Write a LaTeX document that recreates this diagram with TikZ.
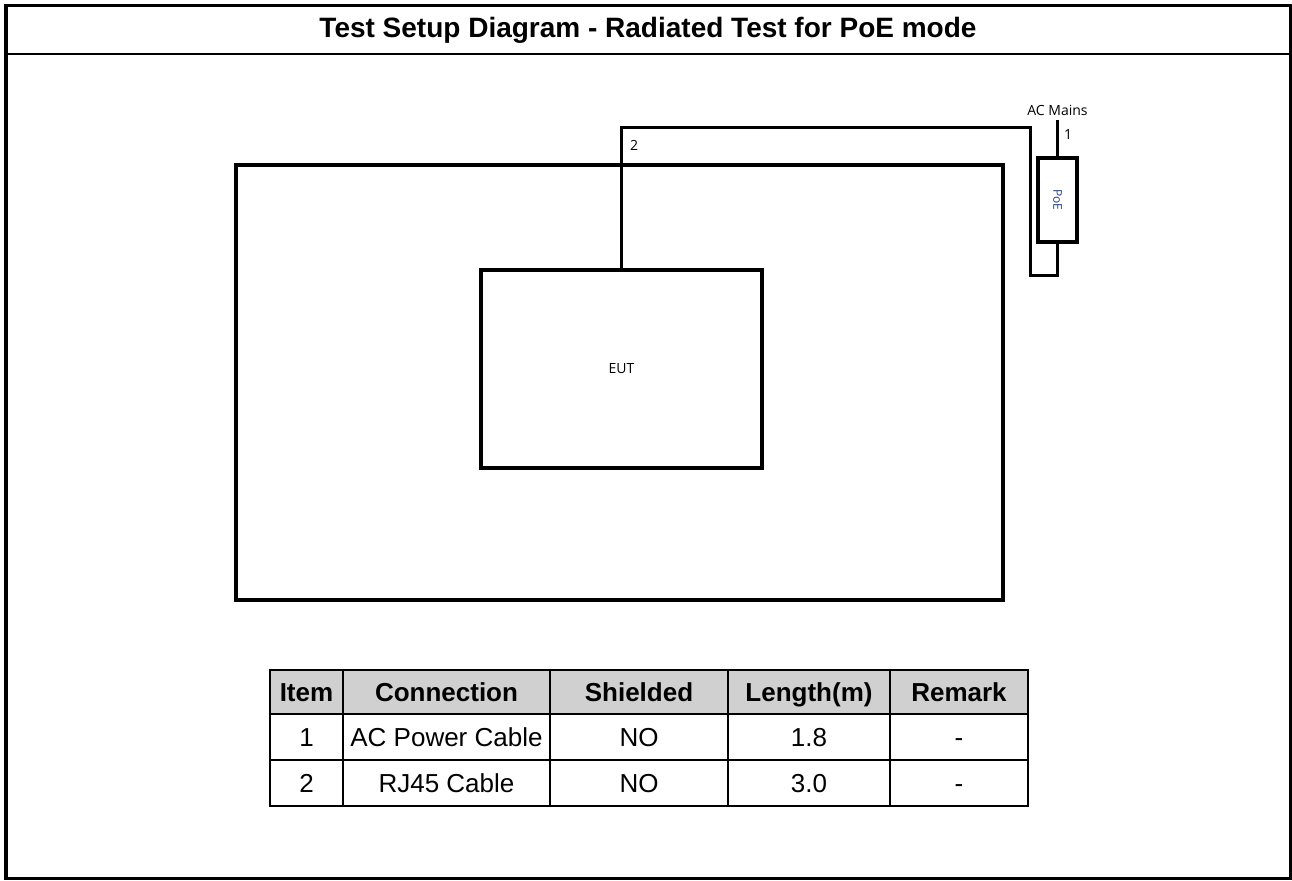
\documentclass[tikz,border=0pt]{standalone}
\usepackage{fontspec}
\setmainfont{Liberation Sans}
\newfontfamily\tagfont{Open Sans}
\usetikzlibrary{positioning}
\definecolor{HeadGray}{HTML}{D0D0D0}
\definecolor{TagBlue}{HTML}{1F3F7F}
\tikzset{
  sheet/.style={draw=black, line width=1.6pt},
  unit/.style={draw=black, line width=1.6pt, inner sep=0pt, outer sep=0pt},
  cable/.style={draw=black, line width=1.5pt},
  tag/.style={font=\tagfont\fontsize{7}{8}\selectfont, inner sep=1pt},
  hcell/.style={draw=black, line width=0.9pt, fill=HeadGray, inner sep=0pt, outer sep=0pt,
    minimum height=22pt, text height=9.4pt, text depth=0.2pt,
    font=\bfseries\fontsize{13}{15}\selectfont},
  tcell/.style={draw=black, line width=0.9pt, inner sep=0pt, outer sep=0pt,
    minimum height=23pt, text height=9.4pt, text depth=0.2pt,
    font=\fontsize{13}{15}\selectfont},
}
\begin{document}
\begin{tikzpicture}[x=0.5pt, y=-0.5pt]
  \useasboundingbox (0,0) rectangle (1292,880);
  % sheet frame and heading
  \draw[sheet] (6,5.5) rectangle (1290.5,878.5);
  \draw[black, line width=1pt] (6,53.5) -- (1290.5,53.5);
  \node[font=\bfseries\fontsize{14}{16}\selectfont] (title) at (648,30)
    {Test Setup Diagram - Radiated Test for PoE mode};

  % table top, EUT and PoE
  \node[unit, minimum width=383.5pt, minimum height=217.5pt] (room) at (619.5,382.5) {};
  \node[unit, minimum width=140.5pt, minimum height=99pt] (eut) at (621.5,369) {};
  \node[tag] at (eut.center) {EUT};
  \node[unit, minimum width=19.5pt, minimum height=42pt] (poe) at (1057.5,200) {};
  \node[tag, text=TagBlue, font=\tagfont\fontsize{6}{7}\selectfont, rotate=-90] at (poe.center) {PoE};

  % cables
  \coordinate (mains) at (1057.5,120);
  \coordinate (cabtop) at (1030,127);
  \coordinate (bend) at (1030,275);
  \draw[cable] (poe.north) -- (mains);
  \draw[cable] (eut.north) |- (cabtop) -- (bend) -| (poe.south);
  \node[tag, above=1pt of mains] (acm) {AC Mains};
  \node[tag] (n1) at (1068,134) {1};
  \node[tag] (n2) at (634,145) {2};

  % cable table
  \node[hcell, minimum width=36.5pt, anchor=north west] (h1) at (270,670) {Item};
  \node[hcell, minimum width=103.5pt, right=0pt of h1] (h2) {Connection};
  \node[hcell, minimum width=89pt, right=0pt of h2] (h3) {Shielded};
  \node[hcell, minimum width=81pt, right=0pt of h3] (h4) {Length(m)};
  \node[hcell, minimum width=69pt, right=0pt of h4] (h5) {Remark};
  \node[tcell, minimum width=36.5pt, below=0pt of h1] (a1) {1};
  \node[tcell, minimum width=103.5pt, right=0pt of a1] (a2) {AC Power Cable};
  \node[tcell, minimum width=89pt, right=0pt of a2] (a3) {NO};
  \node[tcell, minimum width=81pt, right=0pt of a3] (a4) {1.8};
  \node[tcell, minimum width=69pt, right=0pt of a4] (a5) {-};
  \node[tcell, minimum width=36.5pt, below=0pt of a1] (b1) {2};
  \node[tcell, minimum width=103.5pt, right=0pt of b1] (b2) {RJ45 Cable};
  \node[tcell, minimum width=89pt, right=0pt of b2] (b3) {NO};
  \node[tcell, minimum width=81pt, right=0pt of b3] (b4) {3.0};
  \node[tcell, minimum width=69pt, right=0pt of b4] (b5) {-};
\end{tikzpicture}
\end{document}
